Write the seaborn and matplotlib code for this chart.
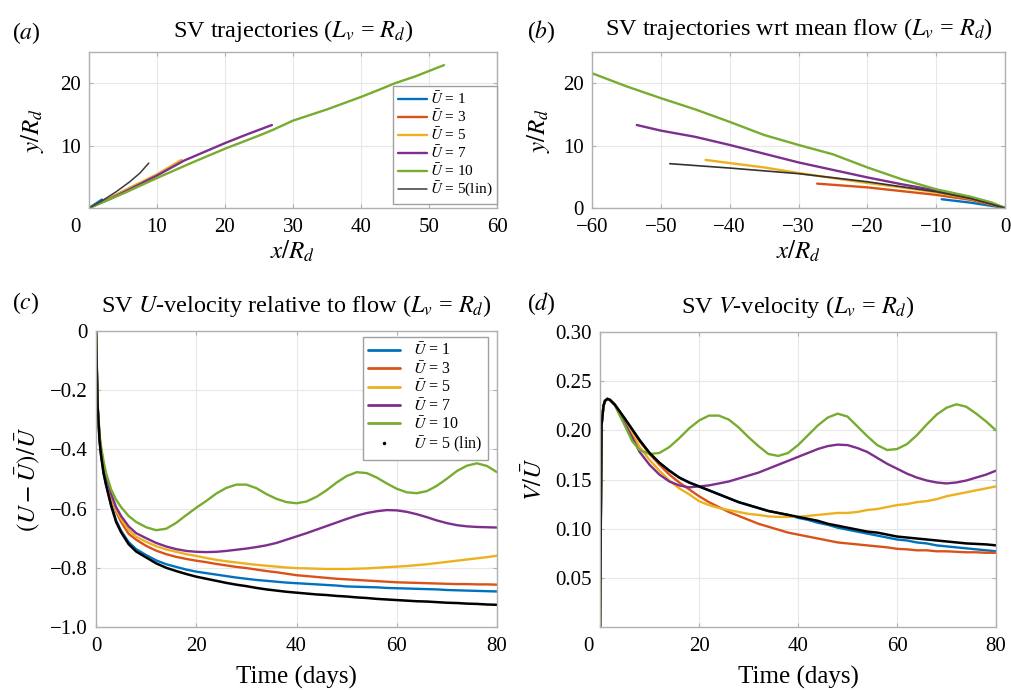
import matplotlib
matplotlib.use("Agg")
import matplotlib.pyplot as plt
from matplotlib.lines import Line2D
import seaborn as sns

# ---- data ----
cases = ["1", "3", "5", "7", "10"]
colors = ["#0072BD", "#D95319", "#EDB120", "#7E2F8E", "#77AC30"]

# (a) trajectories, x/Rd and y/Rd
a_x = {
    "1": [0, 1.0, 1.9],
    "3": [0, 2, 4, 6, 7.3],
    "5": [0, 3, 6, 10, 13.6],
    "7": [0, 3, 6, 10, 14, 17, 20, 23, 26.9],
    "10": [0, 5, 10, 15, 20, 25, 27, 30, 35, 37, 40, 43, 45, 48, 52.2],
}
a_y = {
    "1": [0, 0.7, 1.35],
    "3": [0, 1.0, 2.1, 3.2, 3.9],
    "5": [0, 1.5, 3.2, 5.4, 7.7],
    "7": [0, 1.4, 3.0, 5.2, 7.6, 9.0, 10.4, 11.7, 13.3],
    "10": [0, 2.3, 4.8, 7.2, 9.5, 11.6, 12.5, 14.0, 15.8, 16.6, 17.8, 19.1, 20.0, 21.1, 22.9],
}
a_lin_x = [0, 2, 4, 6, 7.5, 8.8]
a_lin_y = [0, 1.2, 2.6, 4.2, 5.6, 7.2]

# (b) trajectories relative to the mean flow
b_x = {
    "1": [-9.2, -5, 0],
    "3": [-27.3, -20, -15, -10, -5, 0],
    "5": [-43.5, -40, -35, -30, -25, -20, -15, -10, -5, 0],
    "7": [-53.5, -50, -45, -40, -35, -30, -25, -20, -15, -10, -5, 0],
    "10": [-60, -55, -50, -45, -40, -35, -30, -25, -20, -15, -10, -5, -2, 0],
}
b_y = {
    "1": [1.4, 0.85, 0],
    "3": [3.9, 3.3, 2.7, 2.1, 1.3, 0],
    "5": [7.7, 7.2, 6.5, 5.6, 4.8, 4.0, 3.3, 2.5, 1.5, 0],
    "7": [13.3, 12.4, 11.4, 10.1, 8.7, 7.3, 6.1, 4.9, 3.8, 2.8, 1.7, 0],
    "10": [21.6, 19.5, 17.6, 15.8, 13.8, 11.7, 10.1, 8.6, 6.5, 4.6, 3.0, 1.8, 0.9, 0],
}
b_lin_x = [-48.7, -40, -30, -20, -10, -5, 0]
b_lin_y = [7.1, 6.4, 5.5, 4.2, 2.6, 1.5, 0]

# (c), (d) time series
days = [0, 0.3, 0.7, 1, 1.5, 2, 3, 4, 5, 6.5, 8,
        10, 12, 14, 16, 18, 20, 22, 24, 26, 28, 30, 32, 34, 36, 38, 40,
        42, 44, 46, 48, 50, 52, 54, 56, 58, 60, 62, 64, 66, 68, 70,
        72, 74, 76, 78, 80]

c_vals = {
    "1": [0, -0.25, -0.37, -0.42, -0.48, -0.52, -0.585, -0.64, -0.675, -0.713, -0.737,
          -0.757, -0.775, -0.788, -0.797, -0.806, -0.813, -0.818, -0.823, -0.828, -0.833,
          -0.837, -0.841, -0.844, -0.847, -0.850, -0.852, -0.854, -0.856, -0.858, -0.860,
          -0.863, -0.864, -0.865, -0.866, -0.868, -0.869, -0.870, -0.871, -0.872, -0.873,
          -0.875, -0.876, -0.877, -0.878, -0.879, -0.880],
    "3": [0, -0.25, -0.36, -0.41, -0.46, -0.50, -0.56, -0.61, -0.645, -0.685, -0.705,
          -0.726, -0.742, -0.754, -0.763, -0.770, -0.776, -0.781, -0.787, -0.792, -0.797,
          -0.801, -0.806, -0.811, -0.815, -0.820, -0.825, -0.828, -0.831, -0.834, -0.837,
          -0.839, -0.841, -0.843, -0.845, -0.847, -0.849, -0.850, -0.851, -0.852, -0.853,
          -0.854, -0.855, -0.855, -0.856, -0.856, -0.857],
    "5": [0, -0.25, -0.36, -0.41, -0.46, -0.50, -0.555, -0.605, -0.635, -0.672, -0.695,
          -0.712, -0.727, -0.738, -0.746, -0.754, -0.760, -0.767, -0.773, -0.778, -0.782,
          -0.786, -0.790, -0.793, -0.796, -0.799, -0.801, -0.802, -0.803, -0.804, -0.804,
          -0.804, -0.803, -0.802, -0.800, -0.798, -0.796, -0.794, -0.791, -0.788, -0.784,
          -0.780, -0.776, -0.772, -0.768, -0.764, -0.759],
    "7": [0, -0.25, -0.36, -0.40, -0.45, -0.49, -0.55, -0.595, -0.625, -0.66, -0.683,
          -0.700, -0.716, -0.728, -0.737, -0.743, -0.746, -0.747, -0.746, -0.743, -0.739,
          -0.735, -0.730, -0.724, -0.716, -0.705, -0.694, -0.683, -0.671, -0.659, -0.647,
          -0.635, -0.624, -0.615, -0.609, -0.605, -0.606, -0.611, -0.619, -0.629, -0.640,
          -0.649, -0.656, -0.660, -0.662, -0.663, -0.664],
    "10": [0, -0.25, -0.35, -0.39, -0.44, -0.48, -0.535, -0.57, -0.595, -0.625, -0.645,
           -0.663, -0.673, -0.668, -0.648, -0.622, -0.597, -0.574, -0.549, -0.530, -0.519,
           -0.519, -0.531, -0.551, -0.567, -0.578, -0.582, -0.576, -0.560, -0.538, -0.512,
           -0.490, -0.477, -0.480, -0.495, -0.515, -0.533, -0.545, -0.548, -0.541, -0.523,
           -0.499, -0.473, -0.455, -0.447, -0.456, -0.477],
}
c_lin = [0, -0.25, -0.37, -0.42, -0.48, -0.52, -0.59, -0.645, -0.68, -0.72, -0.745,
         -0.765, -0.785, -0.800, -0.811, -0.821, -0.830, -0.837, -0.844, -0.851, -0.857,
         -0.862, -0.868, -0.873, -0.877, -0.881, -0.884, -0.887, -0.890, -0.892, -0.895,
         -0.897, -0.900, -0.902, -0.905, -0.907, -0.909, -0.911, -0.913, -0.914, -0.916,
         -0.918, -0.919, -0.921, -0.922, -0.924, -0.925]

d_vals = {
    "1": [0, 0.205, 0.225, 0.230, 0.232, 0.231, 0.226, 0.219, 0.212, 0.201, 0.190,
          0.177, 0.167, 0.159, 0.152, 0.147, 0.143, 0.139, 0.135, 0.131, 0.127,
          0.124, 0.121, 0.118, 0.116, 0.114, 0.111, 0.109, 0.106, 0.104, 0.101,
          0.099, 0.097, 0.095, 0.093, 0.091, 0.089, 0.088, 0.086, 0.085, 0.083,
          0.082, 0.081, 0.080, 0.079, 0.078, 0.077],
    "3": [0, 0.205, 0.225, 0.230, 0.232, 0.231, 0.226, 0.219, 0.211, 0.200, 0.189,
          0.176, 0.165, 0.155, 0.147, 0.140, 0.133, 0.127, 0.122, 0.117, 0.113,
          0.109, 0.105, 0.102, 0.099, 0.096, 0.094, 0.092, 0.090, 0.088, 0.086,
          0.085, 0.084, 0.083, 0.082, 0.081, 0.0795, 0.079, 0.078, 0.078, 0.077,
          0.077, 0.0765, 0.076, 0.076, 0.0755, 0.0755],
    "5": [0, 0.205, 0.225, 0.230, 0.232, 0.231, 0.226, 0.217, 0.209, 0.197, 0.183,
          0.170, 0.159, 0.149, 0.141, 0.135, 0.128, 0.124, 0.121, 0.119, 0.117,
          0.115, 0.114, 0.1125, 0.112, 0.112, 0.112, 0.113, 0.114, 0.115, 0.116,
          0.116, 0.117, 0.119, 0.120, 0.122, 0.124, 0.125, 0.127, 0.128, 0.130,
          0.133, 0.135, 0.137, 0.139, 0.141, 0.143],
    "7": [0, 0.205, 0.225, 0.230, 0.232, 0.231, 0.226, 0.216, 0.207, 0.193, 0.178,
          0.165, 0.155, 0.148, 0.144, 0.142, 0.143, 0.144, 0.146, 0.148, 0.151,
          0.154, 0.157, 0.161, 0.165, 0.169, 0.173, 0.177, 0.181, 0.184, 0.1855,
          0.185, 0.182, 0.178, 0.172, 0.166, 0.161, 0.156, 0.152, 0.149, 0.147,
          0.146, 0.147, 0.149, 0.152, 0.155, 0.159],
    "10": [0, 0.205, 0.225, 0.230, 0.232, 0.231, 0.226, 0.215, 0.205, 0.189, 0.180,
           0.176, 0.177, 0.183, 0.192, 0.202, 0.210, 0.215, 0.215, 0.211, 0.203,
           0.193, 0.184, 0.176, 0.174, 0.177, 0.185, 0.195, 0.205, 0.213, 0.217,
           0.214, 0.204, 0.194, 0.185, 0.180, 0.181, 0.186, 0.195, 0.206, 0.216,
           0.223, 0.2265, 0.224, 0.217, 0.209, 0.200],
}
d_lin = [0, 0.205, 0.225, 0.230, 0.232, 0.231, 0.226, 0.219, 0.212, 0.201, 0.190,
         0.177, 0.167, 0.159, 0.152, 0.147, 0.143, 0.139, 0.135, 0.131, 0.127,
         0.124, 0.121, 0.118, 0.116, 0.114, 0.112, 0.110, 0.108, 0.105, 0.103,
         0.101, 0.099, 0.097, 0.096, 0.094, 0.092, 0.091, 0.090, 0.089, 0.088,
         0.087, 0.086, 0.085, 0.0845, 0.084, 0.083]

c_yticks = [-1.0, -0.8, -0.6, -0.4, -0.2, 0]
c_yticklabels = ["\u22121.0", "\u22120.8", "\u22120.6", "\u22120.4", "\u22120.2", "0"]
d_yticks = [0.05, 0.10, 0.15, 0.20, 0.25, 0.30]
d_yticklabels = ["0.05", "0.10", "0.15", "0.20", "0.25", "0.30"]
time_ticks = [0, 20, 40, 60, 80]

# ---- style ----
sns.set_theme(style="whitegrid")
plt.rcParams["font.family"] = ["Liberation Serif", "DejaVu Serif"]
plt.rcParams.update({
    "mathtext.fontset": "stix",
    "text.color": "black",
    "axes.labelcolor": "black",
    "xtick.color": "black",
    "ytick.color": "black",
    "axes.edgecolor": "#b0b0b0",
    "axes.linewidth": 1.0,
    "grid.color": "#e8e8e8",
    "grid.linewidth": 0.8,
})

LW = 1.7
TICK_FS = 15
TITLE_FS = 17.5
XPAD = 7
fig = plt.figure(figsize=(10.11, 6.9), dpi=100)
ax_a = fig.add_axes([0.088, 0.6986, 0.4036, 0.2260])
ax_b = fig.add_axes([0.5856, 0.6986, 0.4085, 0.2260])
ax_c = fig.add_axes([0.095, 0.0913, 0.3966, 0.4290])
ax_d = fig.add_axes([0.5935, 0.0913, 0.3917, 0.4275])


def label_of(case):
    return r"$\bar{U}$ = " + case


def style_axes(ax):
    ax.tick_params(direction="in", length=3, width=0.8, color="#b0b0b0",
                   top=True, right=True, bottom=True, left=True,
                   labelsize=TICK_FS, pad=6)
    ax.tick_params(axis="x", pad=XPAD)
    for sp in ax.spines.values():
        sp.set_color("#b0b0b0")
        sp.set_linewidth(1.0)


def shifted_zero(ax, dx):
    # the "0" at the origin sits a bit left of the axis in the reference
    ax.annotate("0", xy=(0, 0), xycoords="axes fraction", xytext=(dx, -XPAD),
                textcoords="offset points", ha="center", va="top", fontsize=TICK_FS)


# (a)
for case, col in zip(cases, colors):
    sns.lineplot(x=a_x[case], y=a_y[case], ax=ax_a, color=col, lw=LW,
                 sort=False, estimator=None, label=label_of(case))
sns.lineplot(x=a_lin_x, y=a_lin_y, ax=ax_a, color="#3c3c3c", lw=1.1,
             sort=False, estimator=None, label=r"$\bar{U}$ = 5(lin)")
ax_a.set_xlim(0, 60)
ax_a.set_ylim(0, 25)
ax_a.set_xticks([0, 10, 20, 30, 40, 50, 60])
ax_a.set_xticklabels(["", "10", "20", "30", "40", "50", "60"])
ax_a.set_yticks([10, 20])
style_axes(ax_a)
shifted_zero(ax_a, -9.5)
ax_a.legend(loc="lower right", bbox_to_anchor=(1.0, 0.025), borderaxespad=0,
            fontsize=11, handlelength=1.9, handletextpad=0.2, labelspacing=0.08,
            borderpad=0.3, frameon=True, fancybox=False, edgecolor="#a0a0a0",
            framealpha=1)
ax_a.set_title(r"SV trajectories ($L_v$ = $R_d$)", fontsize=TITLE_FS, pad=11)
ax_a.set_xlabel(r"$x/R_d$", fontsize=18)
ax_a.set_ylabel(r"$y/R_d$", fontsize=18)
ax_a.xaxis.set_label_coords(0.5, -0.2)
ax_a.yaxis.set_label_coords(-0.105, 0.5)

# (b)
for case, col in zip(cases, colors):
    sns.lineplot(x=b_x[case], y=b_y[case], ax=ax_b, color=col, lw=LW,
                 sort=False, estimator=None)
sns.lineplot(x=b_lin_x, y=b_lin_y, ax=ax_b, color="#333333", lw=1.2,
             sort=False, estimator=None)
ax_b.set_xlim(-60, 0)
ax_b.set_ylim(0, 25)
ax_b.set_xticks([-60, -50, -40, -30, -20, -10, 0])
ax_b.set_yticks([0, 10, 20])
style_axes(ax_b)
ax_b.set_title(r"SV trajectories wrt mean flow ($L_v$ = $R_d$)", fontsize=TITLE_FS, pad=12)
ax_b.set_xlabel(r"$x/R_d$", fontsize=18)
ax_b.set_ylabel(r"$y/R_d$", fontsize=18)
ax_b.xaxis.set_label_coords(0.5, -0.2)
ax_b.yaxis.set_label_coords(-0.097, 0.5)

# (c)
for case, col in zip(cases, colors):
    sns.lineplot(x=days, y=c_vals[case], ax=ax_c, color=col, lw=LW,
                 sort=False, estimator=None, label=label_of(case))
sns.lineplot(x=days, y=c_lin, ax=ax_c, color="black", lw=1.8,
             sort=False, estimator=None)
ax_c.set_xlim(0, 80)
ax_c.set_ylim(-1.0, 0)
ax_c.set_xticks(time_ticks)
ax_c.set_yticks(c_yticks)
ax_c.set_yticklabels(c_yticklabels)
style_axes(ax_c)
handles = [Line2D([], [], color=col, lw=2.0) for col in colors]
handles.append(Line2D([], [], ls="none", marker=".", ms=3, color="black"))
labels = [label_of(c) for c in cases] + [r"$\bar{U}$ = 5 (lin)"]
ax_c.legend(handles, labels, loc="upper right", bbox_to_anchor=(0.978, 0.98),
            borderaxespad=0, fontsize=11.5, handlelength=2.0, handletextpad=0.8,
            labelspacing=0.1, borderpad=0.35, frameon=True, fancybox=False,
            edgecolor="#a0a0a0", framealpha=1)
ax_c.set_title(r"SV $U$-velocity relative to flow ($L_v$ = $R_d$)", fontsize=TITLE_FS, pad=14)
ax_c.set_xlabel("Time (days)", fontsize=18)
ax_c.set_ylabel(r"$(U-\bar{U})/\bar{U}$", fontsize=18)
ax_c.xaxis.set_label_coords(0.5, -0.132)
ax_c.yaxis.set_label_coords(-0.135, 0.5)

# (d)
for case, col in zip(cases, colors):
    sns.lineplot(x=days, y=d_vals[case], ax=ax_d, color=col, lw=LW,
                 sort=False, estimator=None)
sns.lineplot(x=days, y=d_lin, ax=ax_d, color="black", lw=1.8,
             sort=False, estimator=None)
ax_d.set_xlim(0, 80)
ax_d.set_ylim(0, 0.30)
ax_d.set_xticks(time_ticks)
ax_d.set_xticklabels([""] + [str(t) for t in time_ticks[1:]])
ax_d.set_yticks(d_yticks)
ax_d.set_yticklabels(d_yticklabels)
style_axes(ax_d)
shifted_zero(ax_d, -8.6)
ax_d.set_title(r"SV $V$-velocity ($L_v$ = $R_d$)", fontsize=TITLE_FS, pad=14)
ax_d.set_xlabel("Time (days)", fontsize=18)
ax_d.set_ylabel(r"$V/\bar{U}$", fontsize=18)
ax_d.xaxis.set_label_coords(0.5, -0.132)
ax_d.yaxis.set_label_coords(-0.134, 0.5)

# panel letters
for txt, x, y in [(r"($a$)", 0.012, 0.952), (r"($b$)", 0.521, 0.954),
                  (r"($c$)", 0.012, 0.561), (r"($d$)", 0.521, 0.560)]:
    fig.text(x, y, txt, fontsize=17, va="center", ha="left")

fig.savefig("out.png", dpi=100)
